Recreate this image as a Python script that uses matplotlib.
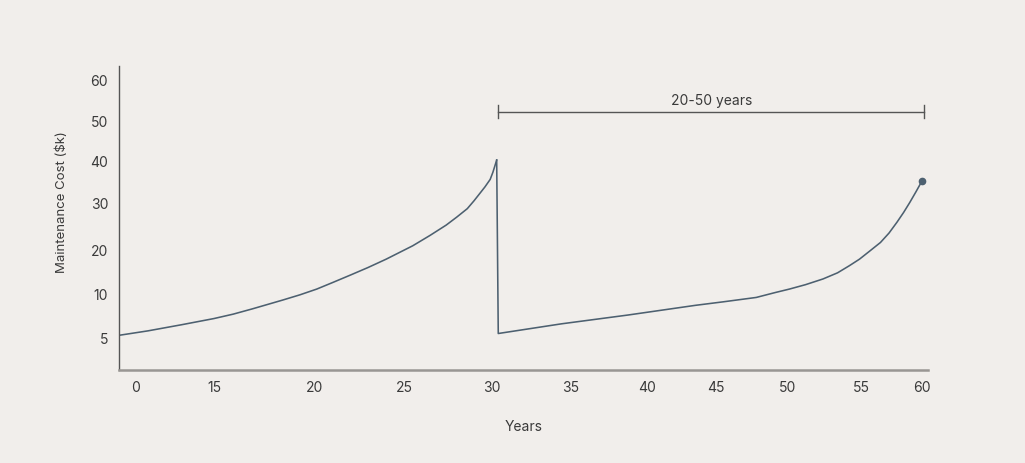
import numpy as np
import matplotlib
matplotlib.use("Agg")
import matplotlib.pyplot as plt

# data
years_a = [-3.2, 2.3, 8.8, 15.0, 15.95, 16.9, 18.4, 19.26, 20.1, 21.0, 22.0, 22.98, 24.0,
           25.5, 26.48, 27.4, 28.0, 28.6, 28.98, 29.3, 29.6, 29.9, 30.06, 30.3]
cost_a = [5.2, 5.7, 6.4, 7.1, 7.6, 8.2, 9.2, 9.8, 10.9, 12.4, 14.1, 15.8, 17.7,
          20.7, 22.9, 25.1, 26.8, 28.6, 30.3, 32.0, 33.6, 35.4, 37.1, 40.0]
years_b = [30.3, 30.4, 34.4, 38.75, 43.5, 45.5, 47.8, 49.1, 50.1, 51.2, 52.4, 53.4, 54.2,
           54.9, 55.7, 56.6, 57.3, 57.95, 58.5, 59.0, 59.5, 60.0]
cost_b = [40.0, 5.4, 6.5, 7.5, 8.6, 9.0, 9.5, 10.1, 10.9, 11.9, 13.2, 14.6, 16.2,
          17.7, 19.5, 21.4, 23.4, 25.7, 27.8, 29.9, 32.4, 35.0]

x_ticks = [0, 15, 20, 25, 30, 35, 40, 45, 50, 55, 60]
y_ticks = [5, 10, 20, 30, 40, 50, 60]
bracket_label = "20-50 years"

# the axes are not evenly spaced: where each tick sits along the axis
x_tick_pos = [136, 214, 315, 404, 492, 571, 647, 716, 788, 861, 922]
y_tick_pos = [-338, -294, -250, -203, -161, -121, -80]


def piecewise(v, xp, fp):
    v = np.asarray(v, dtype=float)
    flat = np.atleast_1d(v).ravel()
    out = np.interp(flat, xp, fp)
    lo = flat < xp[0]
    hi = flat > xp[-1]
    out[lo] = fp[0] + (flat[lo] - xp[0]) * (fp[1] - fp[0]) / (xp[1] - xp[0])
    out[hi] = fp[-1] + (flat[hi] - xp[-1]) * (fp[-1] - fp[-2]) / (xp[-1] - xp[-2])
    return out.reshape(v.shape)


bg = "#f1eeeb"
line_c = "#4d6070"
text_c = "#3a3a3a"

plt.rcParams['font.family'] = ['Inter', 'DejaVu Sans']

fig = plt.figure(figsize=(10.25, 4.64), dpi=100, facecolor=bg)
ax = fig.add_axes([0.1164, 0.2004, 0.789, 0.6552], facecolor=bg)

ax.set_xscale('function', functions=(lambda v: piecewise(v, x_ticks, x_tick_pos),
                                     lambda p: piecewise(p, x_tick_pos, x_ticks)))
ax.set_yscale('function', functions=(lambda v: piecewise(v, y_ticks, y_tick_pos),
                                     lambda p: piecewise(p, y_tick_pos, y_ticks)))

ax.plot(years_a, cost_a, color=line_c, lw=1.15, solid_joinstyle='round')
ax.plot(years_b, cost_b, color=line_c, lw=1.15, solid_joinstyle='round')
ax.plot(years_b[-1], cost_b[-1], 'o', color=line_c, ms=4.5)

ax.set_xlim(-3.2, 60.5)
ax.set_ylim(1.25, 63.2)

ax.set_xticks(x_ticks)
ax.set_xticklabels([str(t) for t in x_ticks])
ax.set_yticks(y_ticks)
ax.set_yticklabels([str(t) for t in y_ticks])
ax.minorticks_off()
ax.tick_params(length=0, labelsize=10, colors=text_c)
ax.tick_params(axis='x', pad=7)
ax.tick_params(axis='y', pad=8)

for s in ['top', 'right']:
    ax.spines[s].set_visible(False)
ax.spines['left'].set_color('#555555')
ax.spines['left'].set_linewidth(1.0)
ax.spines['bottom'].set_color('#999693')
ax.spines['bottom'].set_linewidth(1.8)

ax.set_xlabel('Years', fontsize=10, color=text_c, labelpad=18)
ax.set_ylabel('Maintenance Cost ($k)', fontsize=9.5, color=text_c, labelpad=16, y=0.556)

# bracket above the second cycle
b_left, b_right, b_y = 30.4, 60.2, 52.0
ax.plot([b_left, b_right], [b_y, b_y], color='#555555', lw=1.0)
ax.plot([b_left, b_left], [50.4, 53.6], color='#555555', lw=1.0)
ax.plot([b_right, b_right], [50.4, 53.6], color='#555555', lw=1.0)
ax.text((b_left + b_right) / 2 - 0.6, 55.0, bracket_label, ha='center', va='center',
        fontsize=10, color=text_c)

fig.savefig('out.png', dpi=100, facecolor=bg)
